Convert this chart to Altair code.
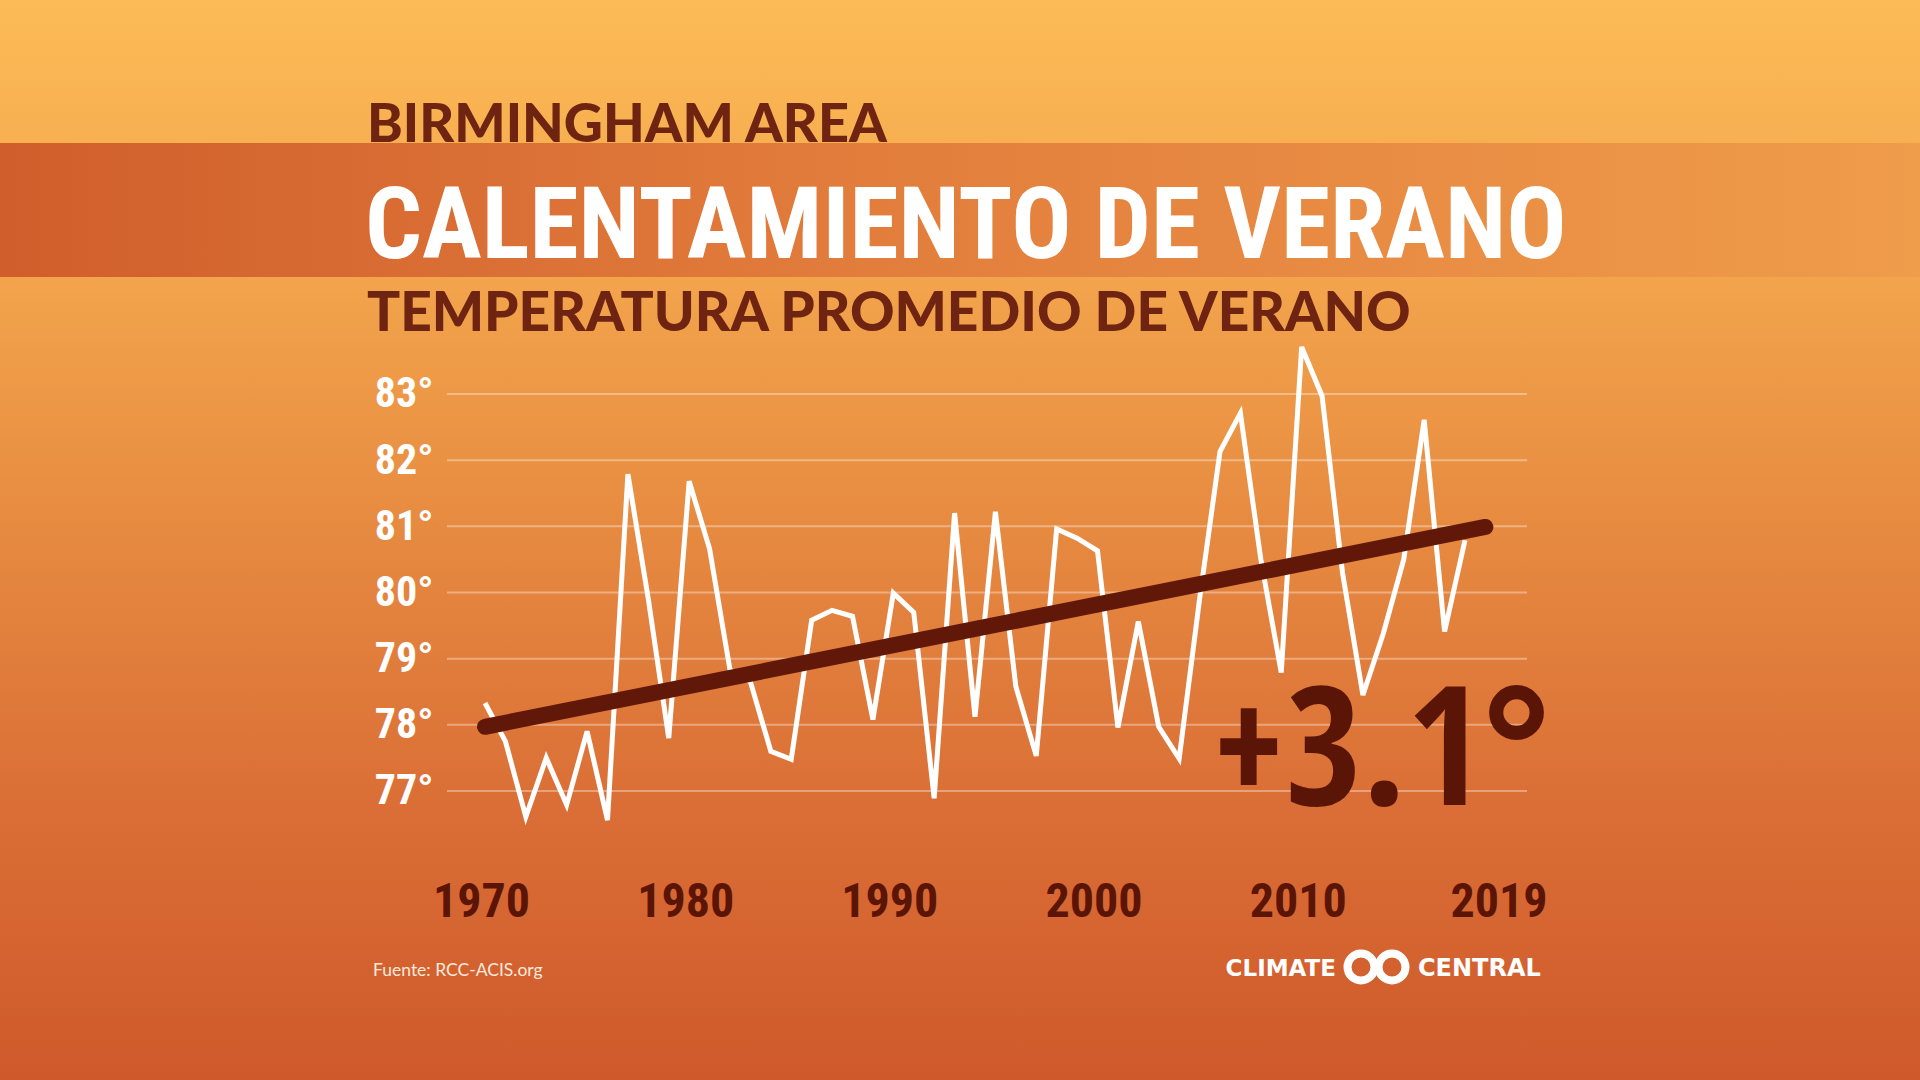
import altair as alt
import pandas as pd

# ---------------- data ----------------
years = list(range(1970, 2019))
temps = [78.33, 77.75, 76.61, 77.50, 76.79, 77.90, 76.56, 81.79, 79.90, 77.80,
         81.68, 80.66, 78.83, 78.65, 77.60, 77.48, 79.58, 79.73, 79.64, 78.08,
         79.99, 79.70, 76.89, 81.20, 78.12, 81.22, 78.58, 77.53, 80.96, 80.82,
         80.63, 77.96, 79.56, 77.97, 77.49, 79.90, 82.13, 82.71, 80.50, 78.79,
         83.71, 82.97, 80.30, 78.45, 79.38, 80.50, 82.61, 79.41, 80.79]
trend_years = [1970, 2019]
trend_temps = [77.97, 80.99]
grid_values = [77, 78, 79, 80, 81, 82, 83]
x_ticks = [1970, 1980, 1990, 2000, 2010, 2019]

location = "BIRMINGHAM AREA"
title = "CALENTAMIENTO DE VERANO"
subtitle = "TEMPERATURA PROMEDIO DE VERANO"
change_label = "+3.1°"
source = "Fuente: RCC-ACIS.org"

# ---------------- styling ----------------
W, H = 1920, 1080
COND = "Roboto Condensed, Open Sans Condensed, sans-serif"
BIG = "Open Sans Condensed, Roboto Condensed, sans-serif"
GEO = "Lato, Open Sans, sans-serif"
DARK = "#5a1507"
TITLE_BROWN = "#6e2411"

x_scale = alt.Scale(domain=[1946.245, 2040.286], nice=False, zero=False)
y_scale = alt.Scale(domain=[72.632, 88.954], nice=False, zero=False)

x_axis = alt.Axis(values=x_ticks, format="d", orient="bottom", offset=-164, zindex=1,
                  domain=False, ticks=False, tickSize=0, grid=False, labelPadding=0,
                  labelFont=COND, labelFontSize=48, labelFontWeight="bold",
                  labelColor=DARK, labelBaseline="alphabetic",
                  labelOffset=alt.condition("datum.value == 2019", alt.value(13), alt.value(-4)),
                  labelOverlap=False, labelBound=False, labelFlush=False, title=None)
y_axis = alt.Axis(values=grid_values, labelExpr="datum.value + '°'", orient="left",
                  offset=-433, zindex=1, domain=False, ticks=False, tickSize=0, grid=False,
                  labelPadding=0, labelFont=COND, labelFontSize=42,
                  labelFontWeight="bold", labelColor="white", labelAlign="right",
                  labelBaseline="middle", labelOverlap=False, labelBound=False,
                  labelFlush=False, title=None)

one = pd.DataFrame({"k": [0]})
df = pd.DataFrame({"year": years, "temp": temps})
trend = pd.DataFrame({"year": trend_years, "temp": trend_temps})
grid = pd.DataFrame({"temp": grid_values})

bg = alt.Chart(one).mark_rect(
    color=alt.LinearGradient(
        gradient="linear", x1=0, x2=0, y1=0, y2=1,
        stops=[alt.GradientStop(offset=0, color="#fcbb56"),
               alt.GradientStop(offset=0.25, color="#f3a54c"),
               alt.GradientStop(offset=0.5, color="#e68940"),
               alt.GradientStop(offset=0.75, color="#da6e36"),
               alt.GradientStop(offset=1, color="#cf592b")])
).encode(x=alt.value(0), x2=alt.value(W), y=alt.value(0), y2=alt.value(H))

band = alt.Chart(one).mark_rect(
    color=alt.LinearGradient(
        gradient="linear", x1=0, x2=1, y1=0, y2=0,
        stops=[alt.GradientStop(offset=0, color="#d05e2c"),
               alt.GradientStop(offset=0.45, color="#e27d3c"),
               alt.GradientStop(offset=1, color="#ef9c4b")])
).encode(x=alt.value(0), x2=alt.value(W), y=alt.value(143), y2=alt.value(277))

gridlines = alt.Chart(grid).mark_rule(color="white", opacity=0.35, strokeWidth=2).encode(
    y=alt.Y("temp:Q", scale=y_scale, axis=y_axis),
    x=alt.value(447), x2=alt.value(1527))

line = alt.Chart(df).mark_line(color="white", strokeWidth=5, strokeJoin="miter").encode(
    x=alt.X("year:Q", scale=x_scale, axis=x_axis),
    y=alt.Y("temp:Q", scale=y_scale, axis=y_axis))

trend_line = alt.Chart(trend).mark_line(color="#611808", strokeWidth=16, strokeCap="round").encode(
    x=alt.X("year:Q", scale=x_scale, axis=x_axis),
    y=alt.Y("temp:Q", scale=y_scale, axis=y_axis))

def text(t, x, y, **kw):
    return alt.Chart(one).mark_text(text=t, **kw).encode(x=alt.value(x), y=alt.value(y))

t_loc = text(location, 367, 142, font=GEO, fontSize=54, fontWeight=900,
             color=TITLE_BROWN, align="left", baseline="alphabetic")
t_title = text(title, 365, 258, font=COND, fontSize=100, fontWeight="bold",
               color="white", align="left", baseline="alphabetic")
t_sub = text(subtitle, 367, 331, font=GEO, fontSize=55, fontWeight=900,
             color=TITLE_BROWN, align="left", baseline="alphabetic")
t_change = text(change_label, 1550, 805, font=BIG, fontSize=165, fontWeight="bold",
                color=DARK, align="right", baseline="alphabetic")
t_source = text(source, 373, 976, font=GEO, fontSize=17.5, color="#fbe9dc",
                align="left", baseline="alphabetic")
t_climate = text("CLIMATE", 1336, 976, font="DejaVu Sans", fontSize=23, fontWeight="bold",
                 color="white", align="right", baseline="alphabetic")
t_central = text("CENTRAL", 1418, 976, font="DejaVu Sans", fontSize=24, fontWeight="bold",
                 color="white", align="left", baseline="alphabetic")
ring1 = alt.Chart(one).mark_point(shape="circle", filled=False, color="white",
                                  strokeWidth=8, size=729, opacity=1).encode(
    x=alt.value(1361), y=alt.value(967))
ring2 = alt.Chart(one).mark_point(shape="circle", filled=False, color="white",
                                  strokeWidth=8, size=729, opacity=1).encode(
    x=alt.value(1392), y=alt.value(967))

chart = alt.layer(
    bg, band, gridlines, line, trend_line, t_change,
    t_loc, t_title, t_sub, t_source, t_climate, t_central, ring1, ring2
).properties(
    width=W, height=H, padding=0,
    autosize=alt.AutoSizeParams(type="none"),
    background="#cf592b"
).configure_view(stroke=None)

chart.save("out.html", embed_options={"renderer": "svg", "actions": False})
